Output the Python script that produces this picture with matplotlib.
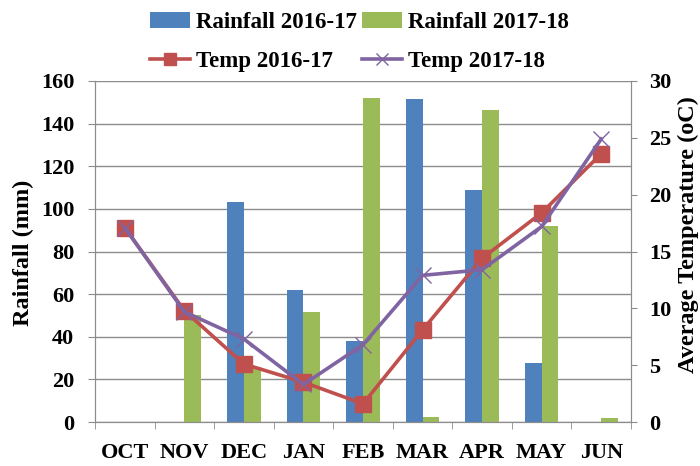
import matplotlib
matplotlib.use("Agg")
import matplotlib.pyplot as plt
import numpy as np

months = ["OCT", "NOV", "DEC", "JAN", "FEB", "MAR", "APR", "MAY", "JUN"]
rain_1617 = [0, 0, 103, 62, 38, 151.5, 109, 27.5, 0]
rain_1718 = [0, 50, 26, 51.5, 152, 2.5, 146.5, 92, 2]
temp_1617 = [17.1, 9.8, 5.1, 3.5, 1.6, 8.1, 14.4, 18.4, 23.6]
temp_1718 = [17.1, 9.7, 7.3, 3.3, 6.8, 12.9, 13.4, 17.2, 24.9]

plt.rcParams['font.family'] = ['Liberation Serif', 'DejaVu Serif']
plt.rcParams['font.weight'] = 'bold'

fig = plt.figure(figsize=(7, 4.66), dpi=100)
ax = fig.add_axes([95/700, 1 - 422/466, 536/700, 341/466])
ax2 = ax.twinx()

x = np.arange(len(months))
w = 0.28
b1 = ax.bar(x - w/2, rain_1617, w, color="#4F81BD", label="Rainfall 2016-17", zorder=2)
b2 = ax.bar(x + w/2, rain_1718, w, color="#9BBB59", label="Rainfall 2017-18", zorder=2)

l1, = ax2.plot(x, temp_1617, color="#C0504D", lw=2.6, marker="s", markersize=12,
               label="Temp 2016-17", zorder=3)
l2, = ax2.plot(x, temp_1718, color="#8064A2", lw=2.6, marker="x", markersize=12,
               markeredgewidth=1.0, label="Temp 2017-18", zorder=4)

ax.set_xlim(-0.5, len(months) - 0.5)
ax.set_ylim(0, 160)
ax.set_yticks(np.arange(0, 161, 20))
ax2.set_ylim(0, 30)
ax2.set_yticks(np.arange(0, 31, 5))

ax.yaxis.grid(True, color="#8c8c8c", lw=1.0, zorder=0)
ax.set_axisbelow(True)

for a in (ax, ax2):
    for s in a.spines.values():
        s.set_color("#8c8c8c")
    a.spines['top'].set_visible(False)

ax.set_xticks(x)
ax.set_xticklabels(months, fontsize=16, fontweight='bold')
ax.tick_params(axis='x', which='major', length=0, pad=15)
ax.set_xticks(np.arange(-0.5, len(months), 1), minor=True)
ax.tick_params(axis='x', which='minor', length=5, color="#8c8c8c")
ax.tick_params(axis='y', length=5, color="#8c8c8c", labelsize=16, pad=10)
ax2.tick_params(axis='y', length=4, color="#8c8c8c", labelsize=16, pad=9)

fig.text(23/700, 1 - 252.5/466, "Rainfall (mm)", rotation=90, ha='center', va='center',
         fontsize=17.5, fontweight='bold')
fig.text(699/700, 1 - 235/466, "Average Temperature (oC)", rotation=90, ha='right',
         va='center', fontsize=17.5, fontweight='bold')

fig.legend([b1, l1, b2, l2],
           ["Rainfall 2016-17", "Temp 2016-17", "Rainfall 2017-18", "Temp 2017-18"],
           ncol=2, loc='upper left', bbox_to_anchor=(150/700, 1 - 12/466), frameon=False,
           prop={'size': 16.5, 'weight': 'bold'}, handlelength=1.75, handletextpad=0.26,
           columnspacing=0.22, labelspacing=0.8, borderpad=0, borderaxespad=0,
           markerscale=0.7)

fig.savefig("out.png", dpi=100)
